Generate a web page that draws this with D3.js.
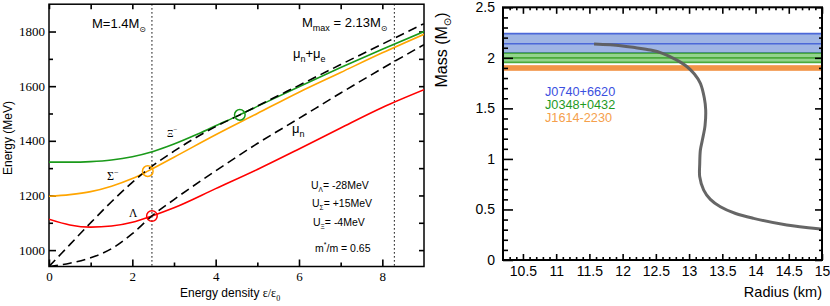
<!DOCTYPE html>
<html>
<head>
<meta charset="utf-8">
<script src="https://cdn.jsdelivr.net/npm/d3@7"></script>
<style>
  body { margin: 0; background: white; }
  svg { display: block; }
</style>
</head>
<body>
<div id="canvas-div"></div>
<script>
// ---- left panel: energies vs energy density ----
const densityTicks = [0, 2, 4, 6, 8];
const energyTicks = [1000, 1200, 1400, 1600, 1800];

const xiDensity = [0, 0.5, 1, 1.5, 2, 2.5, 3, 3.5, 4, 4.58, 5, 6, 7, 8, 9];
const xiEnergy = [1322, 1322, 1324, 1330, 1342, 1361, 1388, 1420, 1455, 1495, 1526, 1598, 1668, 1735, 1800];

const sigmaDensity = [0, 0.5, 1, 1.5, 2, 2.37, 3, 4, 5, 6, 7, 8, 9];
const sigmaEnergy = [1197, 1203, 1214, 1234, 1262, 1289, 1340, 1422, 1500, 1578, 1650, 1722, 1790];

const lambdaDensity = [0, 0.5, 1, 1.5, 2, 2.47, 3, 4, 5, 6, 7, 8, 9];
const lambdaEnergy = [1113, 1092, 1084, 1088, 1102, 1125, 1155, 1225, 1295, 1370, 1447, 1522, 1587];

const muNDensity = [0, 0.5, 1, 1.5, 2, 2.47, 3, 4, 5, 6, 7, 8, 9];
const muNEnergy = [940, 952, 972, 1005, 1060, 1125, 1185, 1290, 1390, 1482, 1575, 1665, 1752];

const muNEDensity = [0, 0.5, 1, 1.5, 2, 2.37, 3, 4, 4.58, 5, 6, 7, 8, 9];
const muNEEnergy = [940, 1020, 1100, 1177, 1248, 1295, 1362, 1452, 1495, 1527, 1603, 1679, 1754, 1829];

// threshold points (density, energy)
const thresholds = [
    { name: "sigma", density: 2.37, energy: 1289, color: "#ffa500" },
    { name: "lambda", density: 2.47, energy: 1125, color: "#ff0000" },
    { name: "xi", density: 4.58, energy: 1495, color: "#1a9a1a" }
];
const starDensities = [2.47, 8.29];

// ---- right panel: mass-radius ----
const radiusTicks = [10.5, 11, 11.5, 12, 12.5, 13, 13.5, 14, 14.5, 15];
const massTicks = [0, 0.5, 1, 1.5, 2, 2.5];

const mrRadius = [11.57, 11.97, 12.2, 12.42, 12.6, 12.72, 12.85, 12.97, 13.08, 13.17, 13.23, 13.25, 13.24, 13.2, 13.17, 13.16, 13.16, 13.22, 13.32, 13.47, 13.7, 13.97, 14.47, 15.0, 15.2];
const mrMass = [2.136, 2.12, 2.1, 2.077, 2.045, 2.01, 1.965, 1.912, 1.84, 1.748, 1.6, 1.484, 1.33, 1.187, 1.088, 0.95, 0.824, 0.692, 0.6, 0.527, 0.46, 0.412, 0.346, 0.306, 0.295];

const pulsarNames = ["J0740+6620", "J0348+0432", "J1614-2230"];
const pulsarMass = [2.14, 2.0, 1.90];
const pulsarLow = [2.05, 1.955, 1.88];
const pulsarHigh = [2.24, 2.045, 1.92];

const pulsarFill = ["#9fb5e4", "#93d48d", "#f8b97c"];
const pulsarLine = ["#4b68d8", "#4aaa3c", "#f08a36"];
const pulsarText = ["#3b4fe0", "#1f9a1f", "#f5a04c"];

const svg = d3.select("#canvas-div")
    .append("svg")
    .attr("width", 830)
    .attr("height", 306)
    .style("background-color", "white");

const serif = "'Liberation Serif', 'DejaVu Serif', serif";
const sans = "'Liberation Sans', Arial, sans-serif";

function styleAxis(g, font, size) {
    g.select(".domain").remove();
    g.selectAll(".tick line").attr("stroke", "black").attr("stroke-width", 1.3);
    g.selectAll(".tick text").attr("font-family", font).attr("font-size", size).attr("fill", "black");
}

//==================== LEFT PANEL ====================
const L = { x0: 49, x1: 424, y0: 4.2, y1: 266.5 };
const xE = d3.scaleLinear().domain([0, 9]).range([L.x0, L.x1]);
const yE = d3.scaleLinear().domain([940, 1900]).range([L.y1, L.y0]);

svg.append("clipPath").attr("id", "clip-left")
    .append("rect")
    .attr("x", L.x0).attr("y", L.y0)
    .attr("width", L.x1 - L.x0).attr("height", L.y1 - L.y0);

// axes, ticks pointing inwards
const minorDensity = [1, 3, 5, 7];
const minorEnergy = [1100, 1300, 1500, 1700];

svg.append("g")
    .attr("transform", "translate(0," + L.y1 + ")")
    .call(d3.axisBottom(xE).tickValues(densityTicks).tickSize(-7).tickPadding(5).tickFormat(d3.format("d")))
    .call(g => styleAxis(g, serif, 13));
svg.append("g")
    .attr("transform", "translate(0," + L.y1 + ")")
    .call(d3.axisBottom(xE).tickValues(minorDensity).tickSize(-4).tickFormat(""))
    .call(g => styleAxis(g, serif, 13));
svg.append("g")
    .attr("transform", "translate(0," + L.y0 + ")")
    .call(d3.axisTop(xE).tickValues(densityTicks.concat(minorDensity)).tickSize(-5).tickFormat(""))
    .call(g => styleAxis(g, serif, 13));

svg.append("g")
    .attr("transform", "translate(" + L.x0 + ",0)")
    .call(d3.axisLeft(yE).tickValues(energyTicks).tickSize(-7).tickPadding(4).tickFormat(d3.format("d")))
    .call(g => styleAxis(g, serif, 13));
svg.append("g")
    .attr("transform", "translate(" + L.x0 + ",0)")
    .call(d3.axisLeft(yE).tickValues(minorEnergy).tickSize(-4).tickFormat(""))
    .call(g => styleAxis(g, serif, 13));
svg.append("g")
    .attr("transform", "translate(" + L.x1 + ",0)")
    .call(d3.axisRight(yE).tickValues(energyTicks.concat(minorEnergy)).tickSize(-5).tickFormat(""))
    .call(g => styleAxis(g, serif, 13));

svg.append("rect")
    .attr("x", L.x0).attr("y", L.y0)
    .attr("width", L.x1 - L.x0).attr("height", L.y1 - L.y0)
    .attr("fill", "none").attr("stroke", "black").attr("stroke-width", 1.5);

// dotted vertical lines for 1.4 and max mass stars
svg.selectAll(".star-line")
    .data(starDensities)
    .enter()
    .append("line")
    .attr("class", "star-line")
    .attr("x1", d => xE(d)).attr("x2", d => xE(d))
    .attr("y1", L.y0).attr("y2", L.y1)
    .attr("stroke", "black")
    .attr("stroke-width", 1.2)
    .attr("stroke-dasharray", "1.3,2.7");

const plotL = svg.append("g").attr("clip-path", "url(#clip-left)");

const curves = [
    { xs: xiDensity, ys: xiEnergy, color: "#1a9a1a", dash: null },
    { xs: sigmaDensity, ys: sigmaEnergy, color: "#ffa500", dash: null },
    { xs: lambdaDensity, ys: lambdaEnergy, color: "#ff0000", dash: null },
    { xs: muNDensity, ys: muNEnergy, color: "black", dash: "9,5" },
    { xs: muNEDensity, ys: muNEEnergy, color: "black", dash: "9,5" }
];

const lineE = d3.line()
    .x(d => xE(d[0]))
    .y(d => yE(d[1]))
    .curve(d3.curveMonotoneX);

curves.forEach(c => {
    plotL.append("path")
        .datum(d3.zip(c.xs, c.ys))
        .attr("d", lineE)
        .attr("fill", "none")
        .attr("stroke", c.color)
        .attr("stroke-width", 1.6)
        .attr("stroke-dasharray", c.dash);
});

plotL.selectAll(".threshold")
    .data(thresholds)
    .enter()
    .append("circle")
    .attr("class", "threshold")
    .attr("cx", d => xE(d.density))
    .attr("cy", d => yE(d.energy))
    .attr("r", 5.3)
    .attr("fill", "none")
    .attr("stroke", d => d.color)
    .attr("stroke-width", 1.5);

// annotations
function sunLabel(x, y, parts) {
    const t = svg.append("text")
        .attr("x", x).attr("y", y)
        .attr("font-family", sans).attr("font-size", 13).attr("fill", "black");
    parts.forEach(p => {
        t.append("tspan")
            .attr("dy", p.dy || 0)
            .attr("font-size", p.size || 13)
            .attr("font-family", p.font || sans)
            .text(p.text);
    });
    return t;
}

sunLabel(92, 28, [
    { text: "M=1.4M" },
    { text: "\u2299", size: 8, dy: 4, font: "'DejaVu Sans', sans-serif" }
]);
sunLabel(302, 27, [
    { text: "M" },
    { text: "max", size: 9, dy: 4 },
    { text: " = 2.13M", dy: -4 },
    { text: "\u2299", size: 8, dy: 4, font: "'DejaVu Sans', sans-serif" }
]);
sunLabel(293, 58, [
    { text: "\u03bc" },
    { text: "n", size: 9, dy: 4 },
    { text: "+\u03bc", dy: -4 },
    { text: "e", size: 9, dy: 4 }
]);
sunLabel(292, 133, [
    { text: "\u03bc" },
    { text: "n", size: 9, dy: 4 }
]);
sunLabel(167, 137, [
    { text: "\u039e", size: 10, font: serif },
    { text: "\u2212", size: 7, dy: -5, font: serif }
]);
sunLabel(107, 180, [
    { text: "\u03a3", size: 12, font: serif },
    { text: "\u2212", size: 8, dy: -5, font: serif }
]);
sunLabel(129, 217, [
    { text: "\u039b", size: 11.5, font: serif }
]);

const potentials = [
    { sym: "\u039b", val: "= -28MeV", x: 311, y: 189 },
    { sym: "\u03a3", val: "= +15MeV", x: 312, y: 207 },
    { sym: "\u039e", val: "= -4MeV", x: 313, y: 226 }
];
potentials.forEach(p => {
    sunLabel(p.x, p.y, [
        { text: "U", size: 10.5 },
        { text: p.sym, size: 6.5, dy: 3 },
        { text: p.val, size: 10.5, dy: -3 }
    ]);
});
sunLabel(315, 252, [
    { text: "m", size: 10.5 },
    { text: "*", size: 7, dy: -5 },
    { text: "/m = 0.65", size: 10.5, dy: 5 }
]);

// axis titles
svg.append("text")
    .attr("transform", "translate(12,138) rotate(-90)")
    .attr("text-anchor", "middle")
    .attr("font-family", sans).attr("font-size", 12)
    .text("Energy (MeV)");

sunLabel(180, 297, [
    { text: "Energy density  ", size: 12 },
    { text: "\u03b5/\u03b5", size: 12, font: serif },
    { text: "0", size: 8, dy: 4, font: serif }
]);

//==================== RIGHT PANEL ====================
const R = { x0: 503, x1: 822, y0: 7.3, y1: 260 };
const xR = d3.scaleLinear().domain([10.2, 15]).range([R.x0, R.x1]);
const yM = d3.scaleLinear().domain([0, 2.5]).range([R.y1, R.y0]);

svg.append("clipPath").attr("id", "clip-right")
    .append("rect")
    .attr("x", R.x0).attr("y", R.y0)
    .attr("width", R.x1 - R.x0).attr("height", R.y1 - R.y0);

const minorRadius = d3.range(10.3, 15.001, 0.1).filter(v => Math.abs(v * 2 - Math.round(v * 2)) > 0.01);
const minorMass = d3.range(0.1, 2.5, 0.1).filter(v => Math.abs(v * 2 - Math.round(v * 2)) > 0.01);

const plotR = svg.append("g").attr("clip-path", "url(#clip-right)");

// ticks first so the bands sit over them
svg.append("g")
    .attr("transform", "translate(0," + R.y1 + ")")
    .call(d3.axisBottom(xR).tickValues(radiusTicks).tickSize(-6).tickPadding(6).tickFormat(d => String(d)))
    .call(g => styleAxis(g, sans, 14));
svg.append("g")
    .attr("transform", "translate(0," + R.y1 + ")")
    .call(d3.axisBottom(xR).tickValues(minorRadius).tickSize(-3).tickFormat(""))
    .call(g => styleAxis(g, sans, 14));
svg.append("g")
    .attr("transform", "translate(0," + R.y0 + ")")
    .call(d3.axisTop(xR).tickValues(radiusTicks).tickSize(-6.5).tickFormat(""))
    .call(g => styleAxis(g, sans, 14));
svg.append("g")
    .attr("transform", "translate(0," + R.y0 + ")")
    .call(d3.axisTop(xR).tickValues(minorRadius).tickSize(-3).tickFormat(""))
    .call(g => styleAxis(g, sans, 14));

svg.append("g")
    .attr("transform", "translate(" + R.x0 + ",0)")
    .call(d3.axisLeft(yM).tickValues(massTicks).tickSize(-10).tickPadding(8).tickFormat(d => String(d)))
    .call(g => styleAxis(g, sans, 14));
svg.append("g")
    .attr("transform", "translate(" + R.x0 + ",0)")
    .call(d3.axisLeft(yM).tickValues(minorMass).tickSize(-5).tickFormat(""))
    .call(g => styleAxis(g, sans, 14));
svg.append("g")
    .attr("transform", "translate(" + R.x1 + ",0)")
    .call(d3.axisRight(yM).tickValues(massTicks).tickSize(-7).tickFormat(""))
    .call(g => styleAxis(g, sans, 14));
svg.append("g")
    .attr("transform", "translate(" + R.x1 + ",0)")
    .call(d3.axisRight(yM).tickValues(minorMass).tickSize(-3).tickFormat(""))
    .call(g => styleAxis(g, sans, 14));

svg.selectAll(".tick line").attr("stroke-width", 1.6);

// pulsar mass bands
pulsarNames.forEach((name, i) => {
    plotR.append("rect")
        .attr("x", R.x0)
        .attr("y", yM(pulsarHigh[i]))
        .attr("width", R.x1 - R.x0)
        .attr("height", yM(pulsarLow[i]) - yM(pulsarHigh[i]))
        .attr("fill", pulsarFill[i]);
    [pulsarHigh[i], pulsarMass[i], pulsarLow[i]].forEach(m => {
        plotR.append("line")
            .attr("x1", R.x0).attr("x2", R.x1)
            .attr("y1", yM(m)).attr("y2", yM(m))
            .attr("stroke", pulsarLine[i])
            .attr("stroke-width", 1.6);
    });
});

// mass-radius curve
const lineMR = d3.line()
    .x(d => xR(d[0]))
    .y(d => yM(d[1]))
    .curve(d3.curveCatmullRom.alpha(0.5));

plotR.append("path")
    .datum(d3.zip(mrRadius, mrMass))
    .attr("d", lineMR)
    .attr("fill", "none")
    .attr("stroke", "#5e5e5e")
    .attr("stroke-width", 3)
    .attr("opacity", 0.95);

svg.append("rect")
    .attr("x", R.x0).attr("y", R.y0)
    .attr("width", R.x1 - R.x0).attr("height", R.y1 - R.y0)
    .attr("fill", "none").attr("stroke", "black").attr("stroke-width", 2);

// legend
pulsarNames.forEach((name, i) => {
    svg.append("text")
        .attr("x", 545)
        .attr("y", 96 + i * 13)
        .attr("font-family", sans).attr("font-size", 12.7)
        .attr("fill", pulsarText[i])
        .text(name);
});

// axis titles
const massLabel = svg.append("text")
    .attr("transform", "translate(447,50) rotate(-90)")
    .attr("text-anchor", "middle")
    .attr("font-family", sans).attr("font-size", 16);
massLabel.append("tspan").text("Mass (M");
massLabel.append("tspan").attr("dy", 4).attr("font-size", 10).attr("font-family", "'DejaVu Sans', sans-serif").text("\u2299");
massLabel.append("tspan").attr("dy", -4).text(")");

svg.append("text")
    .attr("x", 822).attr("y", 297)
    .attr("text-anchor", "end")
    .attr("font-family", sans).attr("font-size", 14.5)
    .text("Radius (km)");
</script>
</body>
</html>
